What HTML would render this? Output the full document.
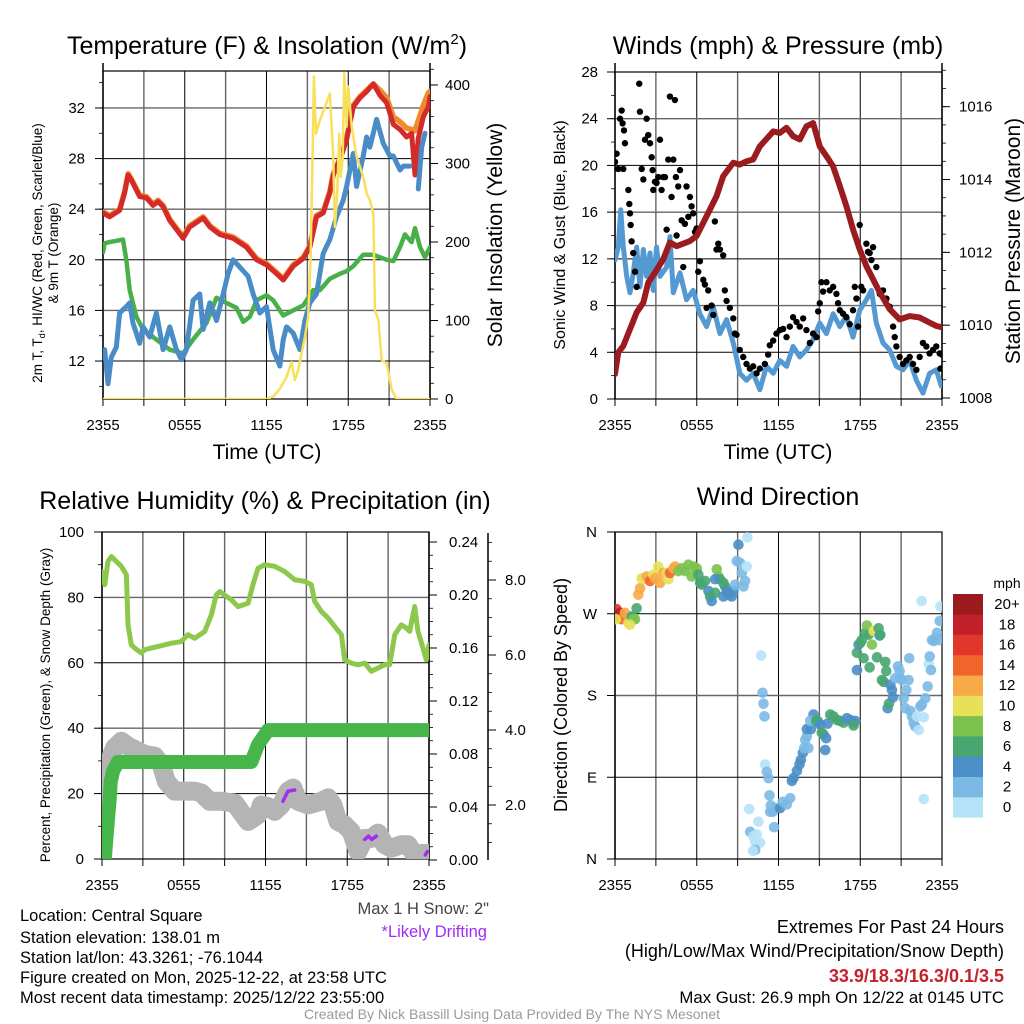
<!DOCTYPE html>
<html><head><meta charset="utf-8"><title>Mesonet Station Summary</title>
<style>
html,body{margin:0;padding:0;background:#fff;}
svg{display:block;font-family:"Liberation Sans",Arial,sans-serif;}
</style></head>
<body>
<svg id="chart" xmlns="http://www.w3.org/2000/svg" width="1024" height="1024" viewBox="0 0 1024 1024">
<rect x="0" y="0" width="1024" height="1024" fill="#fff"/>
<defs>
<clipPath id="c1"><rect x="103" y="71" width="327" height="328"/></clipPath>
<clipPath id="c2"><rect x="615" y="72" width="327" height="327"/></clipPath>
<clipPath id="c3"><rect x="102" y="532" width="327" height="327"/></clipPath>
<clipPath id="c4"><rect x="615" y="532" width="327" height="327"/></clipPath>
</defs>
<!-- titles -->
<text x="267" y="54" font-size="25" text-anchor="middle">Temperature (F) &amp; Insolation (W/m<tspan font-size="15" dy="-10">2</tspan><tspan dy="10">)</tspan></text>
<text x="778" y="54" font-size="25" text-anchor="middle">Winds (mph) &amp; Pressure (mb)</text>
<text x="265" y="509" font-size="25" text-anchor="middle">Relative Humidity (%) &amp; Precipitation (in)</text>
<text x="778" y="505" font-size="25" text-anchor="middle">Wind Direction</text>
<!-- axis titles -->
<text x="267" y="459" font-size="21" text-anchor="middle">Time (UTC)</text>
<text x="778" y="459" font-size="21" text-anchor="middle">Time (UTC)</text>
<text transform="translate(42,253) rotate(-90)" font-size="13.5" text-anchor="middle">2m T, T<tspan font-size="9" dy="3">d</tspan><tspan dy="-3">, HI/WC (Red, Green, Scarlet/Blue)</tspan></text>
<text transform="translate(58,253) rotate(-90)" font-size="13.5" text-anchor="middle">&amp; 9m T (Orange)</text>
<text transform="translate(502,235) rotate(-90)" font-size="21" text-anchor="middle">Solar Insolation (Yellow)</text>
<text transform="translate(565,235) rotate(-90)" font-size="16" text-anchor="middle">Sonic Wind &amp; Gust (Blue, Black)</text>
<text transform="translate(1020,241) rotate(-90)" font-size="21" text-anchor="middle">Station Pressure (Maroon)</text>
<text transform="translate(50,705) rotate(-90)" font-size="13.5" text-anchor="middle">Percent, Precipitation (Green), &amp; Snow Depth (Gray)</text>
<text transform="translate(567,695) rotate(-90)" font-size="18" text-anchor="middle">Direction (Colored By Speed)</text>
<!-- notes -->
<text x="489" y="914" font-size="16.5" text-anchor="end" fill="#444">Max 1 H Snow: 2"</text>
<text x="487" y="937" font-size="16.5" text-anchor="end" fill="#a22cf0">*Likely Drifting</text>
<g font-size="16.5">
<text x="20" y="921">Location: Central Square</text>
<text x="20" y="943">Station elevation: 138.01 m</text>
<text x="20" y="963">Station lat/lon: 43.3261; -76.1044</text>
<text x="20" y="983">Figure created on Mon, 2025-12-22, at 23:58 UTC</text>
<text x="20" y="1003">Most recent data timestamp: 2025/12/22 23:55:00</text>
</g>
<g text-anchor="end">
<text x="1004" y="933" font-size="18">Extremes For Past 24 Hours</text>
<text x="1004" y="957" font-size="18">(High/Low/Max Wind/Precipitation/Snow Depth)</text>
<text x="1004" y="982" font-size="18" font-weight="bold" fill="#c8202a">33.9/18.3/16.3/0.1/3.5</text>
<text x="1004" y="1003" font-size="16.8">Max Gust: 26.9 mph On 12/22 at 0145 UTC</text>
</g>
<text x="512" y="1019" font-size="14" text-anchor="middle" fill="#9a9a9a">Created By Nick Bassill Using Data Provided By The NYS Mesonet</text>
</svg>
<script>
// ---------- data ----------
const timeTickLabels = ["2355","0555","1155","1755","2355"];
const tempTicks = [12,16,20,24,28,32];
const solarTicks = [0,100,200,300,400];
const windTicks = [0,4,8,12,16,20,24,28];
const pressTicks = [1008,1010,1012,1014,1016];
const rhTicks = [0,20,40,60,80,100];
const precipTicks = [0,0.04,0.08,0.12,0.16,0.20,0.24];
const snowTicks = [2,4,6,8];
const dirTicks = [0,90,180,270,360];
const dirTickLabels = ["N","E","S","W","N"];

const tempHour = [0,0.49,1.22,1.59,1.84,2.08,2.69,3.18,3.67,4.04,4.41,4.9,5.39,5.88,6.37,7.35,7.84,8.57,9.55,10.53,11.27,12.0,12.74,13.23,13.96,14.7,15.18,15.67,16.16,16.65,16.9,17.39,17.88,18.37,18.86,19.35,19.84,20.33,20.82,21.31,21.8,22.29,22.65,22.9,23.14,23.51,23.88,24];
const tempF = [23.7,23.4,23.9,25.3,26.7,26.3,25.0,24.9,24.3,24.6,24.2,23.1,22.4,21.7,22.6,23.3,22.6,22.0,21.7,21.0,20.0,19.6,18.9,18.4,19.5,20.1,21.0,23.4,23.7,25.3,26.7,27.9,29.5,32.1,32.8,33.3,33.9,33.0,32.4,30.7,30.3,29.7,30.0,26.7,29.6,31.3,32.1,32.9];
const temp9mF = [23.8,23.5,24.0,25.4,26.8,26.4,25.1,25.0,24.4,24.7,24.3,23.2,22.5,21.8,22.7,23.4,22.7,22.1,21.8,21.1,20.1,19.7,19.0,18.5,19.6,20.2,21.1,23.5,23.8,25.4,26.8,28.0,29.6,32.2,32.9,33.4,33.9,33.4,32.8,31.3,30.9,30.4,30.3,30.2,31.0,32.2,33.2,33.3];
const dewHour = [0,0.12,0.49,1.47,1.71,1.96,2.45,2.94,3.92,4.9,5.88,6.61,7.59,8.33,9.06,9.8,10.29,10.78,11.27,12.0,12.49,13.23,13.96,14.7,15.43,15.92,16.65,17.39,17.88,18.37,19.1,19.84,20.82,21.31,21.8,22.16,22.65,22.9,23.27,23.63,24];
const dewF = [20.6,21.3,21.4,21.6,20.0,17.6,15.5,14.5,13.7,12.9,12.6,13.7,15.0,17.0,16.6,16.2,15.1,15.5,16.8,17.2,16.8,15.6,16.0,16.4,17.6,17.6,18.5,18.9,19.1,19.5,20.4,20.4,20.0,19.9,21.0,22.0,21.4,22.5,21.0,20.2,21.0];
const chillHour = [0,0.12,0.37,0.61,0.98,1.22,1.71,1.96,2.2,2.69,2.94,3.43,3.92,4.41,4.9,5.39,5.76,6.12,6.61,7.1,7.35,7.84,8.33,8.82,9.18,9.55,10.65,11.02,11.51,12.0,12.49,12.98,13.23,13.47,13.96,14.45,14.82,15.18,15.67,16.16,16.65,17.14,17.63,17.88,18.37,18.61,19.1,19.35,19.59,20.08,20.57,21.06,21.31,21.8,22.04,22.53];
const chillF = [12.6,12.9,10.2,12.3,13.1,15.8,16.3,16.6,15.0,13.4,14.7,13.9,15.8,12.9,14.7,12.9,12.1,12.9,16.8,17.3,14.5,16.6,15.2,17.3,18.9,20.0,18.7,17.3,15.8,16.3,12.9,11.6,13.7,14.7,14.2,12.9,15.2,16.6,17.3,20.5,21.6,23.4,24.7,25.8,28.4,25.8,28.2,29.7,28.9,31.1,29.2,28.2,28.2,27.1,27.4,27.4];
const chillTailHour = [23.14,23.39,23.63];
const chillTailF = [25.6,28.9,30.0];
const solarHour = [0,12.0,12.49,12.98,13.47,13.84,14.08,14.33,14.57,14.82,15.06,15.23,15.38,15.48,15.63,15.92,16.65,16.9,17.02,17.19,17.34,17.44,17.59,17.71,17.88,18.0,18.25,18.61,19.1,19.35,19.59,19.84,19.96,20.21,20.45,20.82,21.19,21.55,24];
const solarW = [0,0,3,13,28,47,24,37,58,79,105,177,305,411,338,355,389,309,219,262,338,283,305,415,347,398,347,309,283,262,253,236,113,101,50,45,12,0,0];

const pressHour = [0,0.24,0.61,1.1,1.59,2.08,2.44,2.93,3.54,4.03,4.52,5.5,5.99,6.72,7.45,7.94,8.68,9.16,9.65,10.14,10.63,11.61,12.1,12.59,13.07,13.56,14.05,14.54,15.03,15.52,16.01,16.5,16.98,17.47,17.96,18.45,18.94,19.43,20.16,20.89,21.63,22.36,23.09,23.58,24];
const pressMb = [1008.66,1009.25,1009.43,1009.89,1010.35,1010.62,1011.17,1011.44,1011.81,1012.27,1012.17,1012.31,1012.45,1012.99,1013.54,1014.09,1014.46,1014.41,1014.5,1014.55,1014.91,1015.32,1015.28,1015.42,1015.19,1015.1,1015.46,1015.55,1014.91,1014.64,1014.36,1013.82,1013.27,1012.63,1012.08,1011.62,1011.26,1010.9,1010.44,1010.16,1010.25,1010.21,1010.07,1009.98,1009.94];
const sonicHour = [0,0.24,0.42,0.61,0.86,1.1,1.34,1.59,1.83,2.08,2.32,2.57,2.81,3.05,3.3,3.79,4.03,4.28,4.77,5.25,5.74,6.23,6.72,7.21,7.7,8.19,8.68,9.16,9.65,10.14,10.63,11.12,11.61,12.1,12.59,13.07,13.56,14.05,14.54,15.03,15.52,16.01,16.5,16.98,17.47,17.96,18.45,18.82,19.18,19.67,20.16,20.65,21.14,21.63,22.12,22.6,23.09,23.58,23.95];
const sonicMph = [11.9,13.0,16.2,13.0,10.5,9.1,10.8,13.0,9.6,12.8,10.5,12.5,9.3,13.0,10.5,11.3,13.9,9.1,10.8,8.5,9.3,7.3,6.2,7.9,5.6,6.8,4.8,2.2,1.6,2.2,0.8,2.8,2.2,3.3,2.8,4.5,3.6,4.2,5.1,6.5,5.6,7.3,6.2,7.1,5.3,7.6,8.5,9.3,6.5,4.8,4.2,2.8,2.5,3.3,1.6,0.5,2.2,2.5,1.1];
const gustHour = [0,0.12,0.24,0.37,0.49,0.56,0.66,0.73,0.61,0.98,1.05,1.1,1.15,1.22,1.34,1.47,1.59,1.78,1.83,1.96,2.08,2.2,2.32,2.44,2.57,2.69,2.76,2.81,2.93,3.05,3.18,3.3,3.42,3.54,3.67,3.79,3.91,4.03,4.15,4.28,4.4,4.47,4.52,4.64,4.77,4.89,5.01,5.13,5.25,5.38,5.5,5.62,5.74,5.87,5.99,6.11,6.23,6.48,6.6,6.72,6.84,7.09,7.21,7.33,7.45,7.58,7.7,7.94,8.06,8.19,8.43,8.68,8.8,8.92,9.16,9.41,9.65,9.9,10.14,10.39,10.63,11.0,11.24,11.36,11.61,11.85,12.1,12.34,12.59,12.83,13.07,13.32,13.56,13.81,14.05,14.3,14.54,14.79,14.91,15.03,15.15,15.27,15.52,15.76,16.01,16.25,16.37,16.5,16.74,16.98,17.23,17.47,17.6,17.72,17.84,17.96,18.08,18.21,18.45,18.57,18.69,18.82,18.94,19.18,19.43,19.67,19.92,20.16,20.41,20.53,20.65,20.89,21.14,21.38,21.63,21.87,22.12,22.36,22.6,22.85,23.09,23.34,23.58,23.83,23.88,24];
const gustMph = [20.3,21.0,19.7,24.0,24.7,23.6,23.0,21.9,19.7,17.9,16.7,15.9,14.9,13.5,12.5,10.9,9.6,27.0,24.6,19.7,18.8,22.2,24.0,22.6,21.9,20.7,19.6,17.9,18.6,18.5,19.0,22.2,17.9,19.0,19.0,14.5,20.5,25.9,17.3,20.5,25.6,19.0,14.0,18.2,19.6,15.3,11.3,15.0,18.2,15.6,17.3,16.5,15.9,14.3,14.6,10.9,11.8,10.2,9.8,7.8,9.3,8.0,7.2,15.2,12.8,13.3,12.8,12.3,9.3,8.4,7.8,6.9,5.6,5.5,4.2,3.6,3.0,2.6,2.8,2.2,2.6,3.0,3.8,4.6,5.0,5.6,5.9,6.0,5.3,6.2,7.0,6.6,6.2,6.9,5.9,4.8,5.6,5.3,7.5,8.2,10.0,9.2,10.0,9.3,9.6,9.0,8.2,7.6,7.3,7.0,6.4,7.6,9.6,8.6,6.2,14.9,9.6,9.3,13.3,12.6,12.5,11.9,13.0,11.3,9.0,9.3,8.6,7.9,6.2,5.3,4.5,3.6,3.0,3.3,3.6,3.0,2.5,3.6,4.8,4.5,3.9,4.2,4.5,3.9,2.6,3.8];

const rhHour = [0,0.2,0.44,0.69,1.05,1.42,1.79,1.91,2.15,2.4,2.89,3.13,3.62,4.11,4.6,5.09,5.82,6.31,6.8,7.54,8.03,8.39,8.64,9.13,9.49,9.98,10.72,11.08,11.45,11.94,12.67,13.41,14.14,14.87,15.36,15.61,16.1,16.59,17.08,17.57,17.81,18.3,18.79,19.28,19.77,20.26,20.75,21.11,21.49,21.97,22.34,22.58,22.95,23.19,23.56,23.8,24];
const rhPct = [87.9,83.9,91.0,92.5,91.0,89.5,86.9,71.6,65.5,64.5,63.0,64.0,64.5,65.0,65.5,66.0,66.5,68.6,67.5,69.6,74.7,80.8,81.8,80.3,79.3,77.2,78.2,83.9,88.9,90.0,89.5,87.9,85.4,84.9,83.9,78.8,75.7,73.7,71.1,68.6,60.9,59.9,59.4,59.9,57.4,58.4,59.4,59.4,68.6,71.6,70.6,69.6,77.2,69.6,64.5,60.9,65.5];
const precipHour = [0,0.2,0.32,0.44,0.56,0.64,0.81,1.17,10.96,11.45,12.18,24];
const precipIn = [0,0.0,0.016,0.031,0.045,0.059,0.067,0.074,0.074,0.087,0.098,0.098];
const snowHour = [0,0.07,0.44,0.93,1.42,1.91,2.64,3.13,3.87,4.35,4.72,5.33,6.8,7.29,7.9,8.76,9.74,10.35,10.72,11.45,11.69,12.18,12.67,13.16,13.65,14.02,14.39,15.12,16.1,16.59,16.95,17.32,17.81,18.3,18.79,19.28,19.77,20.26,20.75,21.24,21.97,22.46,22.95,23.44,23.93];
const snowIn = [1.65,2.37,3.08,3.53,3.7,3.57,3.44,3.35,3.3,3.08,2.63,2.37,2.37,2.32,2.1,2.1,2.05,1.74,1.56,1.74,2.0,1.96,1.83,2.0,2.37,2.45,2.1,2.0,2.1,2.19,2.0,1.56,1.47,1.29,0.76,1.11,1.11,1.25,0.94,0.85,0.94,0.94,0.67,0.71,0.71];
const driftHourA = [13.28,13.65,14.14];
const driftInA = [2.1,2.37,2.4];
const driftHourB = [19.28,19.55,19.8,20.13];
const driftInB = [1.08,1.17,1.08,1.17];
const driftHourC = [23.73,23.88];
const driftInC = [0.67,0.76];

const dirHour = [0,0.12,0.24,0.37,0.49,0.07,0.73,0.98,1.22,1.35,1.47,1.59,1.1,
1.71,1.84,1.96,2.08,2.33,2.57,2.82,2.94,3.18,3.31,3.55,3.8,3.92,4.04,4.29,4.41,4.65,4.9,5.14,5.39,5.76,6.0,5.63,6.12,6.25,6.37,6.61,6.86,6.98,7.1,7.35,7.47,7.59,7.71,7.35,7.96,8.08,8.2,7.96,8.33,8.57,8.69,8.82,8.94,9.06,9.18,9.31,9.43,9.67,9.72,9.55,
10.73,10.83,10.9,10.97,11.02,11.14,11.27,11.34,11.44,11.58,11.39,11.76,12.12,12.32,12.61,12.86,11.68,9.85,9.92,10.16,10.29,10.41,10.53,10.65,10.29,10.12,
12.98,13.1,13.35,13.54,13.64,13.79,13.89,14.2,13.96,14.08,14.08,14.38,14.57,14.33,14.77,14.87,15.06,15.18,15.31,15.5,15.43,15.6,15.8,16.04,16.29,16.53,16.78,17.02,17.27,17.51,17.63,17.51,
17.76,17.76,17.88,18.0,18.12,18.25,18.37,18.49,18.61,18.69,18.86,18.98,19.23,19.35,19.42,19.47,19.59,19.72,19.84,19.91,20.01,20.11,20.21,20.33,20.4,20.57,20.77,20.89,20.94,21.06,21.19,21.31,21.38,21.55,21.6,21.68,21.8,21.92,22.04,22.16,22.29,22.41,22.53,22.66,22.78,22.95,23.02,23.1,23.19,23.27,23.39,23.51,23.63,23.76,23.83,23.88,22.51,22.66];
const dirDeg = [267,275,269,271,264,264,271,260,267,264,264,276,258,
291,298,309,308,311,306,313,309,322,304,315,315,308,315,320,322,317,320,317,324,322,320,311,313,304,302,306,295,289,284,293,319,311,308,308,304,300,295,289,291,289,295,302,328,346,326,315,300,322,354,306,
224,183,171,157,104,96,89,70,59,52,52,56,56,63,60,67,35,55,30,25,19,27,41,18,10,9,
86,89,97,104,109,117,122,122,131,135,143,143,159,152,152,152,148,139,137,133,120,149,159,157,153,152,150,155,153,150,152,147,
208,227,236,238,241,221,249,257,247,211,236,251,222,254,246,247,197,195,217,207,166,171,192,186,178,199,212,207,199,197,177,166,186,197,221,163,157,150,146,157,142,168,170,156,177,190,215,223,208,241,240,243,249,241,262,278,284,66];
const dirSpeed = [14,16,18,18,14,10,12,10,6,8,8,6,10,
12,12,10,10,12,14,10,12,10,12,12,10,10,14,12,12,8,8,8,8,8,8,8,6,6,6,6,4,6,4,6,8,8,6,4,6,6,4,4,4,4,4,2,2,4,2,2,2,0,0,2,
0,2,2,2,0,2,2,2,2,2,2,2,4,2,2,2,2,0,2,0,0,0,0,0,2,0,
4,4,4,4,4,4,2,2,2,2,4,4,4,2,6,6,4,6,6,4,4,4,6,6,6,6,6,4,4,4,4,6,
4,6,4,6,6,6,6,8,6,6,8,10,6,6,4,6,6,6,6,6,4,6,4,4,4,2,2,2,2,2,2,2,2,2,2,2,2,2,2,0,0,2,2,0,2,2,0,2,2,2,2,2,2,2,2,0,0,0];

const speedBins = [0,2,4,6,8,10,12,14,16,18,20];
const speedBinLabels = ["0","2","4","6","8","10","12","14","16","18","20+"];
const speedColors = ["#b6e2f8","#7bb9e4","#4a8fc7","#48a670","#7bc24f","#e8e058","#f8aa47","#f2652a","#e0362c","#c1202a","#9b1a1e"];

// ---------- helpers ----------
const NS = 'http://www.w3.org/2000/svg';
const svg = document.getElementById('chart');
function mk(tag, attrs, parent) {
  const e = document.createElementNS(NS, tag);
  for (const k in attrs) e.setAttribute(k, attrs[k]);
  (parent || svg).appendChild(e);
  return e;
}
function lin(d0, d1, r0, r1) { return v => r0 + (v - d0) * (r1 - r0) / (d1 - d0); }
function pathD(xs, ys, fx, fy) {
  let d = '';
  for (let i = 0; i < xs.length; i++) d += (i ? 'L' : 'M') + fx(xs[i]).toFixed(2) + ',' + fy(ys[i]).toFixed(2);
  return d;
}

const P1 = {x0:103,x1:430,y0:71,y1:399};
const P2 = {x0:615,x1:942,y0:72,y1:399};
const P3 = {x0:102,x1:429,y0:532,y1:859};
const P4 = {x0:615,x1:942,y0:532,y1:859};
const x1s = lin(0,24,P1.x0,P1.x1), yTemp = lin(9,34.92,P1.y1,P1.y0), ySolar = lin(0,417.8,P1.y1,P1.y0);
const x2s = lin(0,24,P2.x0,P2.x1), yWind = lin(0,28,P2.y1,P2.y0), yPress = lin(1008,1016.98,398,71);
const x3s = lin(0,24,P3.x0,P3.x1), yRh = lin(0,100,P3.y1,P3.y0), yPrecip = lin(0,0.24,860,542), ySnow = lin(0,2,880,805);
const x4s = lin(0,24,P4.x0,P4.x1), yDir = lin(0,360,P4.y1,P4.y0);

function frame(P, name, yMajorPx) {
  const g = mk('g', {});
  
  
  for (let h = 3; h < 24; h += 3) {
    const x = P.x0 + (P.x1 - P.x0) * h / 24;
    const ln = mk('line', {x1:x, x2:x, y1:P.y0, y2:P.y1, stroke: (h % 6 === 0) ? '#000' : '#666', 'stroke-width': (h % 6 === 0) ? 1 : 1.4}, g);
    
    
  }
  yMajorPx.forEach((y, i) => {
    const ln = mk('line', {x1:P.x0, x2:P.x1, y1:y, y2:y, stroke: (i % 2) ? '#666' : '#000', 'stroke-width': (i % 2) ? 1.4 : 1}, g);
    
    
  });
  const r = mk('rect', {x:P.x0, y:P.y0, width:P.x1-P.x0, height:P.y1-P.y0, fill:'none', stroke:'#000', 'stroke-width':1.2}, g);
  
  
  for (let h = 0; h <= 24; h += 3) {
    const x = P.x0 + (P.x1 - P.x0) * h / 24;
    const t = mk('line', {x1:x, x2:x, y1:P.y1, y2:P.y1 + 7, stroke:'#000', 'stroke-width':1}, g);
    
    
  }
  timeTickLabels.forEach((lab, i) => {
    const x = P.x0 + (P.x1 - P.x0) * i / 4;
    const t = mk('text', {x:x, y:P.y1 + 31, 'font-size':15, 'text-anchor':'middle'}, g);
    t.textContent = lab;
    
    
  });
}
function yAxis(xAx, yTop, yBot, ticks, labels, fy, side, minorStep, name, labelDx) {
  const g = mk('g', {});
  
  
  const ax = mk('line', {x1:xAx, x2:xAx, y1:yTop, y2:yBot, stroke:'#000', 'stroke-width':1.5}, g);
  
  
  const dir = side === 'left' ? -1 : 1;
  if (minorStep) {
    const lo = ticks[0] - 4 * minorStep, hi = ticks[ticks.length - 1] + 4 * minorStep;
    for (let v = lo; v <= hi + 1e-9; v += minorStep) {
      const y = fy(v);
      if (y < yTop - 0.5 || y > yBot + 0.5) continue;
      const m = mk('line', {x1:xAx, x2:xAx + dir * 4, y1:y, y2:y, stroke:'#000', 'stroke-width':0.8}, g);
      
      
    }
  }
  ticks.forEach((v, i) => {
    const y = fy(v);
    const t = mk('line', {x1:xAx, x2:xAx + dir * 8, y1:y, y2:y, stroke:'#000', 'stroke-width':1}, g);
    
    
    const tx = mk('text', {x: xAx + dir * labelDx, y: y + 5, 'font-size':15, 'text-anchor': side === 'left' ? 'end' : 'start'}, g);
    tx.textContent = labels[i];
    
    
  });
}
function series(d, attrs, clip, name) {
  const p = mk('path', Object.assign({d:d, fill:'none', 'stroke-linejoin':'round', 'stroke-linecap':'round', 'clip-path':'url(#' + clip + ')'}, attrs));
  
  
  return p;
}

// ---------- panel 1 ----------
frame(P1, 'temperature', tempTicks.map(yTemp));
yAxis(P1.x0, 63, P1.y1, tempTicks, tempTicks.map(String), yTemp, 'left', 2, 'temperature-y-axis', 18);
yAxis(P1.x1, 63, P1.y1, solarTicks, solarTicks.map(String), ySolar, 'right', 20, 'solar-y-axis', 15);
series(pathD(tempHour, temp9mF, x1s, yTemp), {stroke:'#f28a2c','stroke-width':5.5}, 'c1', 'temp-9m-line');
series(pathD(tempHour, tempF, x1s, yTemp), {stroke:'#d42a2a','stroke-width':5}, 'c1', 'temp-2m-line');
series(pathD(dewHour, dewF, x1s, yTemp), {stroke:'#48b048','stroke-width':4.5}, 'c1', 'dewpoint-line');
series(pathD(chillHour, chillF, x1s, yTemp), {stroke:'#4a8cc8','stroke-width':5}, 'c1', 'wind-chill-line');
series(pathD(chillTailHour, chillTailF, x1s, yTemp), {stroke:'#4a8cc8','stroke-width':5}, 'c1', 'wind-chill-tail');
series(pathD(solarHour, solarW, x1s, ySolar), {stroke:'#f8e05a','stroke-width':2.5}, 'c1', 'solar-insolation-line');

// ---------- panel 2 ----------
frame(P2, 'winds', windTicks.slice(1, 7).map(yWind));
yAxis(P2.x0, 63, P2.y1, windTicks, windTicks.map(String), yWind, 'left', 2, 'wind-y-axis', 17);
yAxis(P2.x1, 63, P2.y1, pressTicks, pressTicks.map(String), yPress, 'right', 0.5, 'pressure-y-axis', 17);
series(pathD(sonicHour, sonicMph, x2s, yWind), {stroke:'#5499d2','stroke-width':5}, 'c2', 'sonic-wind-line');
const gustG = mk('g', {'clip-path':'url(#c2)'});


gustHour.forEach((h, i) => {
  const c = mk('circle', {cx:x2s(h), cy:yWind(gustMph[i]), r:3.2, fill:'#000'}, gustG);
  
  
});
series(pathD(pressHour, pressMb, x2s, yPress), {stroke:'#9b1b1e','stroke-width':6}, 'c2', 'pressure-line');

// ---------- panel 3 ----------
frame(P3, 'humidity', rhTicks.slice(1, 5).map(yRh));
yAxis(P3.x0, P3.y0, P3.y1, rhTicks, rhTicks.map(String), yRh, 'left', 10, 'rh-y-axis', 18);
yAxis(P3.x1, P3.y0, P3.y1, precipTicks, precipTicks.map(v => v.toFixed(2)), yPrecip, 'right', 0.01, 'precip-y-axis', 20);
yAxis(488, 533, 860, snowTicks, snowTicks.map(v => v.toFixed(1)), ySnow, 'right', 0.5, 'snow-y-axis', 17);
series(pathD(snowHour, snowIn, x3s, ySnow), {stroke:'#b4b4b4','stroke-width':19}, 'c3', 'snow-depth-line');
series(pathD(driftHourA, driftInA, x3s, ySnow), {stroke:'#a22cf0','stroke-width':3.5}, 'c3', 'drifting-segment');
series(pathD(driftHourB, driftInB, x3s, ySnow), {stroke:'#a22cf0','stroke-width':3.5}, 'c3', 'drifting-segment');
series(pathD(driftHourC, driftInC, x3s, ySnow), {stroke:'#a22cf0','stroke-width':3.5}, 'c3', 'drifting-segment');
series(pathD(rhHour, rhPct, x3s, yRh), {stroke:'#8cc84c','stroke-width':5}, 'c3', 'relative-humidity-line');
series(pathD(precipHour, precipIn, x3s, yPrecip), {stroke:'#46b54a','stroke-width':14}, 'c3', 'precipitation-line');

// ---------- panel 4 ----------
frame(P4, 'wind-direction', dirTicks.slice(1, 4).map(yDir));
yAxis(P4.x0, P4.y0, P4.y1, dirTicks, dirTickLabels, yDir, 'left', 0, 'direction-y-axis', 18);
const dirG = mk('g', {'clip-path':'url(#c4)'});


dirHour.forEach((h, i) => {
  const bin = Math.max(0, Math.min(10, Math.floor(dirSpeed[i] / 2)));
  const c = mk('circle', {cx:x4s(h), cy:yDir(dirDeg[i]), r:5.3, fill:speedColors[bin], 'fill-opacity':0.9}, dirG);
  
  
});
// colorbar
const cb = mk('g', {});


const cbT = mk('text', {x:1007, y:588, 'font-size':14, 'text-anchor':'middle'}, cb);
cbT.textContent = 'mph';


speedBins.forEach((b, i) => {
  const k = speedBins.length - 1 - i;
  const y = 594 + k * 20.3;
  const r = mk('rect', {x:953, y:y, width:30, height:20.6, fill:speedColors[i]}, cb);
  
  
  const t = mk('text', {x:1007, y:y + 15, 'font-size':15, 'text-anchor':'middle'}, cb);
  t.textContent = speedBinLabels[i];
  
  
});
</script>
</body></html>
